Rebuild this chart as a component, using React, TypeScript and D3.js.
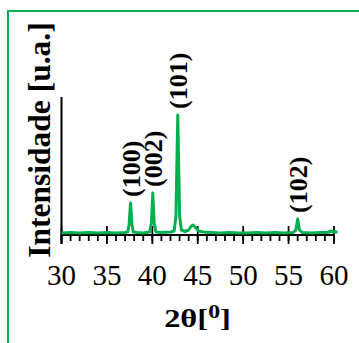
import React from "react";
import * as d3 from "d3";

// diffractogram (arbitrary units)
const twoTheta = [30.0, 31.0, 32.0, 33.0, 34.0, 35.0, 36.0, 37.0, 37.3, 37.45, 37.6, 37.75, 37.9, 38.3, 39.0, 39.7, 39.9, 40.05, 40.2, 40.4, 41.0, 42.0, 42.4, 42.6, 42.8, 43.0, 43.2, 43.6, 44.0, 44.3, 44.5, 44.8, 45.1, 45.6, 46.5, 47.5, 48.5, 49.5, 50.5, 51.5, 52.5, 53.5, 54.5, 55.5, 55.8, 56.0, 56.2, 56.5, 57.5, 58.5, 59.3, 59.7, 60.0, 60.4];
const intensity = [3, 3.5, 3, 3.5, 3, 3.5, 3, 3.5, 4, 12, 33, 12, 4, 3.5, 3, 4, 13, 43, 13, 4, 3.5, 4, 5, 20, 121, 20, 6, 4.5, 6, 10, 11, 8, 5, 4, 3.5, 3, 3.5, 3, 3, 3.5, 3, 3.5, 3, 3.5, 6, 17, 6, 3.5, 3, 3.5, 3.5, 5, 4, 4];

const peakLabels = ["(100)", "(002)", "(101)", "(102)"];
const peakPos = [37.6, 40.05, 42.8, 56.0];
const peakHeight = [33, 43, 121, 17];

const xTicks = [30, 35, 40, 45, 50, 55, 60];

const green = "#00b050";
const serif = "'Liberation Serif', 'Times New Roman', serif";

export default function App() {
  const x = d3.scaleLinear().domain([30, 60]).range([61.5, 334]);
  const y = d3.scaleLinear().domain([0, 139]).range([236, 97]);
  const axisY = 235;
  const minor = d3.range(30, 61, 1);

  const line = d3
    .line<number>()
    .x((_, i) => x(twoTheta[i]))
    .y((d) => y(d));

  return (
    <svg
      width={359}
      height={343}
      style={{ position: "absolute", left: 0, top: 0, background: "#fff" }}
    >
      <rect x={8} y={11} width={420} height={420} fill="none" stroke={green} strokeWidth={2} />

      {/* y title */}
      <text
        transform={`translate(50, 140) rotate(-90)`}
        textAnchor="middle"
        fontFamily={serif}
        fontWeight="bold"
        fontSize={31.5}
      >
        Intensidade [u.a.]
      </text>

      {/* axes */}
      <line x1={61.5} x2={61.5} y1={y(139)} y2={244} stroke="#000" strokeWidth={2} />
      <line x1={61.5} x2={x(60) + 1} y1={axisY} y2={axisY} stroke="#000" strokeWidth={2} />
      {minor.map((t) => (
        <line key={"m" + t} x1={x(t)} x2={x(t)} y1={axisY} y2={241} stroke="#000" strokeWidth={1.8} />
      ))}
      {xTicks.map((t) => (
        <line key={"M" + t} x1={x(t)} x2={x(t)} y1={226} y2={244} stroke="#000" strokeWidth={1.8} />
      ))}
      {xTicks.map((t) => (
        <text key={"t" + t} x={x(t)} y={285} textAnchor="middle" fontFamily={serif} fontSize={29}>
          {t}
        </text>
      ))}

      <path d={line(intensity) || ""} fill="none" stroke={green} strokeWidth={3} strokeLinejoin="round" />

      {peakLabels.map((lab, i) => (
        <text
          key={lab}
          transform={`translate(${x(peakPos[i]) + 9.5}, ${y(peakHeight[i]) - 6}) rotate(-90)`}
          fontFamily={serif}
          fontWeight="bold"
          fontSize={26}
        >
          {lab}
        </text>
      ))}

      {/* x title */}
      <text
        transform="translate(197.5, 327) scale(1.25, 1)"
        textAnchor="middle"
        fontFamily={serif}
        fontWeight="bold"
        fontSize={26}
      >
        2θ[
        <tspan fontSize={19} dy={-9}>0</tspan>
        <tspan dy={9}>]</tspan>
      </text>
    </svg>
  );
}
